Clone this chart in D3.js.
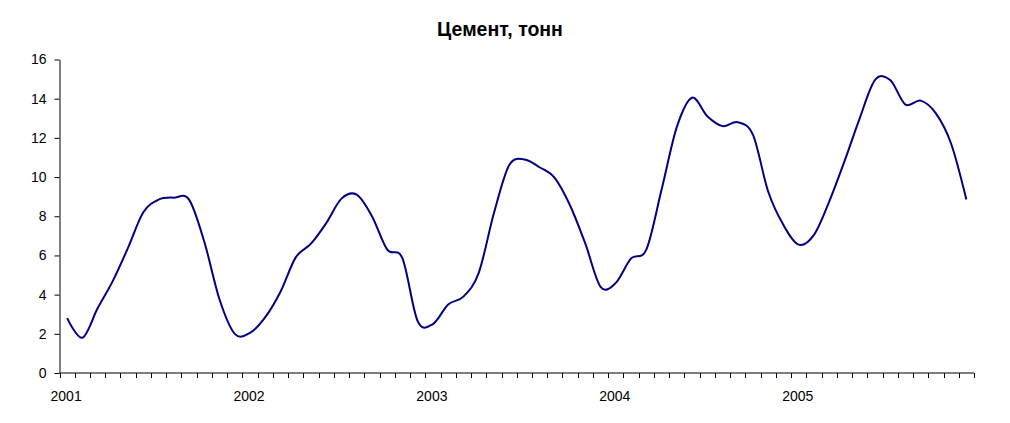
<!DOCTYPE html>
<html><head><meta charset="utf-8">
<script src="https://cdn.jsdelivr.net/npm/d3@7"></script>
<style>body{margin:0;background:#fff}svg{display:block}</style>
</head><body>
<svg id="c" width="1010" height="423"></svg>
<script>
const years = ["2001","2002","2003","2004","2005"];
const months = d3.range(60);
const values = [
 2.8,1.8,3.3,4.7,6.4,8.2,8.85,8.95,8.85,6.7,3.75,2.0,
 2.05,2.85,4.15,5.9,6.6,7.65,8.9,9.1,8.0,6.3,5.85,2.65,
 2.5,3.5,3.9,5.1,8.15,10.6,10.9,10.5,9.95,8.55,6.6,4.4,
 4.6,5.85,6.3,9.35,12.55,14.05,13.1,12.6,12.8,12.15,9.25,7.55,
 6.55,7.05,8.75,10.8,13.0,14.95,14.95,13.7,13.9,13.25,11.7,8.85
];
const yTicks = [0,2,4,6,8,10,12,14,16];

const svg = d3.select("#c");
const L = 59.5, R = 974, T = 59.5, B = 373;
const x = d3.scaleBand().domain(months).range([L, R]).paddingInner(0).paddingOuter(0);
const y = d3.scaleLinear().domain([0,16]).range([B, T]);
const FF = "Liberation Sans, Arial, sans-serif";

svg.append("text").attr("x", 500).attr("y", 36).attr("text-anchor","middle")
  .attr("font-family",FF).attr("font-size",19.5).attr("font-weight","bold")
  .text("Цемент, тонн");

const ya = svg.append("g").attr("transform",`translate(${L},0)`)
  .call(d3.axisLeft(y).tickValues(yTicks).tickSize(5).tickSizeOuter(0).tickPadding(8));
ya.selectAll("text").attr("font-family",FF).attr("font-size",14).attr("fill","#000");
ya.selectAll("line,path").attr("stroke","#000");

const xa = svg.append("g").attr("transform",`translate(0,${B})`);
xa.append("line").attr("x1",L).attr("x2",R).attr("stroke","#000");
const bounds = d3.range(61).map(i => i < 60 ? x(i) : x(59) + x.bandwidth());
xa.selectAll("line.t").data(bounds).join("line").attr("class","t")
  .attr("x1",d=>Math.round(d)+0.5).attr("x2",d=>Math.round(d)+0.5).attr("y1",0).attr("y2",5).attr("stroke","#000");
xa.selectAll("text").data(years).join("text")
  .attr("x",(d,i)=>x(i*12)+x.bandwidth()/2 - 1).attr("y",28).attr("text-anchor","middle")
  .attr("font-family",FF).attr("font-size",14).attr("fill","#000")
  .text(d=>d);

const line = d3.line().x((d,i)=>x(i)+x.bandwidth()/2).y(d=>y(d)).curve(d3.curveCatmullRom.alpha(0));
svg.append("path").datum(values).attr("d",line).attr("fill","none")
  .attr("stroke","#000080").attr("stroke-width",2);
</script>
</body></html>
